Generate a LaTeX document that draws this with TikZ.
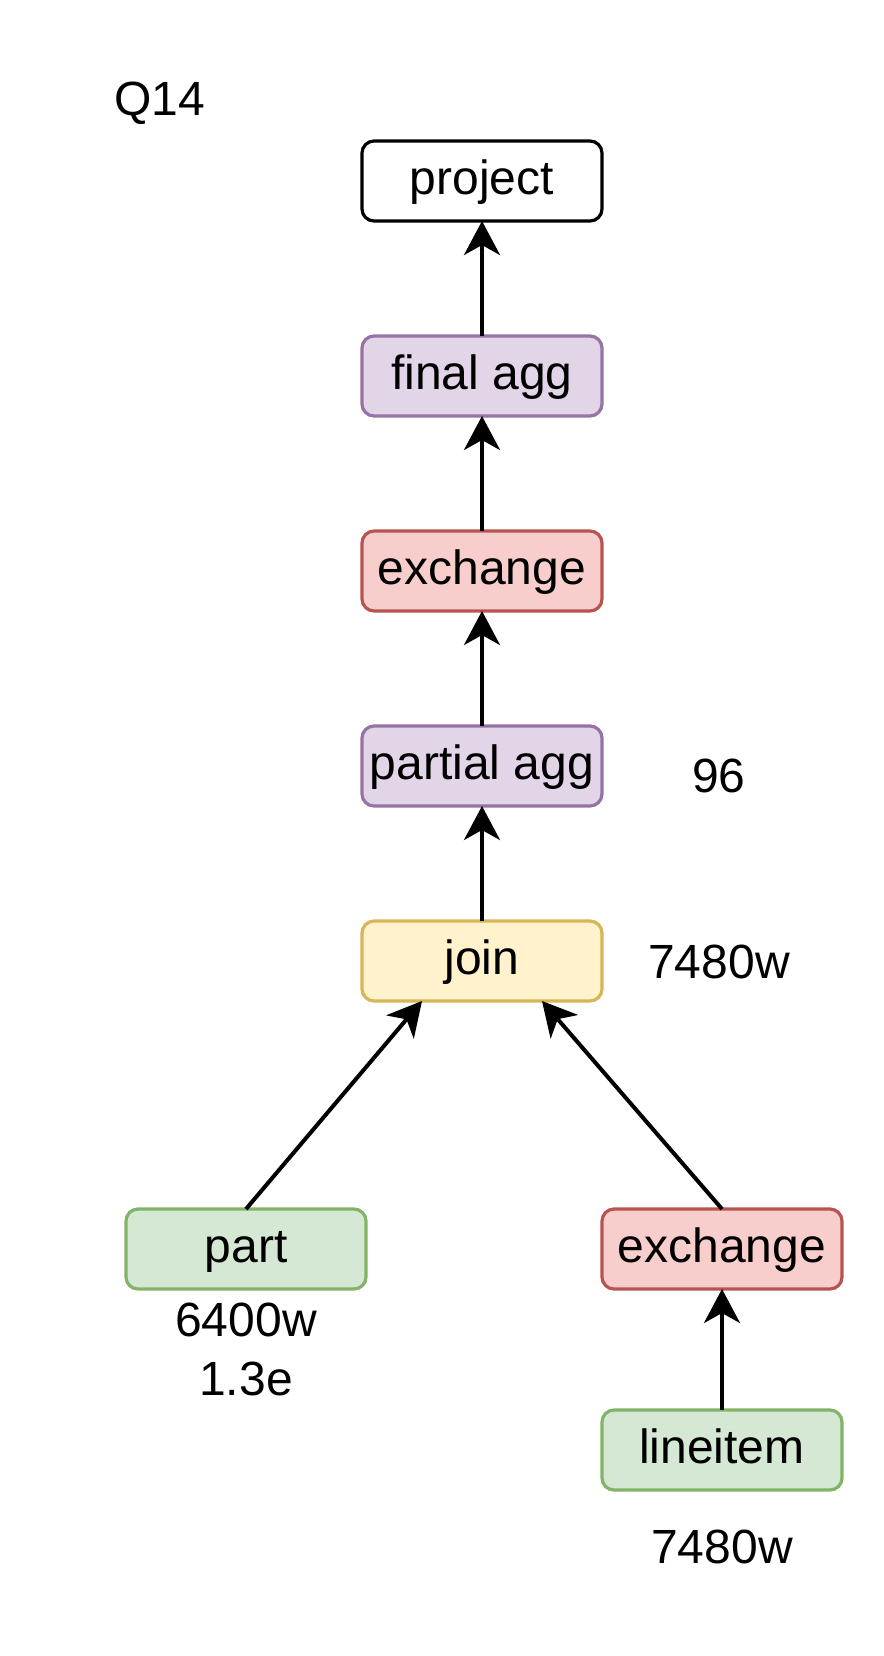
\documentclass[tikz,border=0pt]{standalone}
\usepackage{fontspec}
\setmainfont{Liberation Sans}
\usetikzlibrary{arrows.meta, positioning}
\definecolor{aggFill}{HTML}{E1D5E7}
\definecolor{aggLine}{HTML}{9673A6}
\definecolor{xchFill}{HTML}{F8CECC}
\definecolor{xchLine}{HTML}{B85450}
\definecolor{joinFill}{HTML}{FFF2CC}
\definecolor{joinLine}{HTML}{D6B656}
\definecolor{scanFill}{HTML}{D5E8D4}
\definecolor{scanLine}{HTML}{82B366}
\tikzset{
  arrowK/.style={-{Stealth[length=17pt, width=18pt, inset=5pt]}, black, line width=2pt},
  opBox/.style={rectangle, rounded corners=6pt, draw=black, fill=white, line width=1.6pt,
                minimum width=120pt, minimum height=40pt, inner sep=0pt, outer sep=0pt,
                align=center, text height=16.8pt, text depth=2.9pt},
  boxAgg/.style={opBox, draw=aggLine, fill=aggFill},
  boxXch/.style={opBox, draw=xchLine, fill=xchFill},
  boxJoin/.style={opBox, draw=joinLine, fill=joinFill},
  boxScan/.style={opBox, draw=scanLine, fill=scanFill},
  lbl/.style={inner sep=0pt, align=center},
}
\begin{document}
\begin{tikzpicture}[x=0.5pt, y=-0.5pt, font=\fontsize{24}{29.5}\selectfont, node distance=57.5pt]
    \useasboundingbox (0,0) rectangle (884,1656);
    \node[lbl, text height=17.2pt, text depth=0pt] (title) at (160,98) {Q14};
    % operator tree
    \node[opBox] (proj) at (482,181) {project};
    \node[boxAgg, below=of proj] (fagg) {final agg};
    \node[boxXch, below=of fagg] (xch) {exchange};
    \node[boxAgg, below=of xch] (pagg) {partial agg};
    \node[boxJoin, below=of pagg] (join) {join};
    \node[boxScan, below=104pt of join, xshift=-118pt] (part) {part};
    \node[boxXch, below=104pt of join, xshift=120pt] (xchL) {exchange};
    \node[boxScan, below=60.5pt of xchL] (litem) {lineitem};
    % sizes
    \node[lbl] (nagg) at (719,776) {96};
    \node[lbl] (njoin) at (719,962) {7480w};
    \node[lbl] (npart) at (246,1349.5) {6400w\\1.3e};
    \node[lbl] (nlitem) at (722,1547) {7480w};
    % edges
    \draw[arrowK] (fagg) -- (proj);
    \draw[arrowK] (xch) -- (fagg);
    \draw[arrowK] (pagg) -- (xch);
    \draw[arrowK] (join) -- (pagg);
    \draw[arrowK] (part.north) -- ([xshift=-30pt]join.south);
    \draw[arrowK] (xchL.north) -- ([xshift=30pt]join.south);
    \draw[arrowK] (litem) -- (xchL);
  \end{tikzpicture}
\end{document}
